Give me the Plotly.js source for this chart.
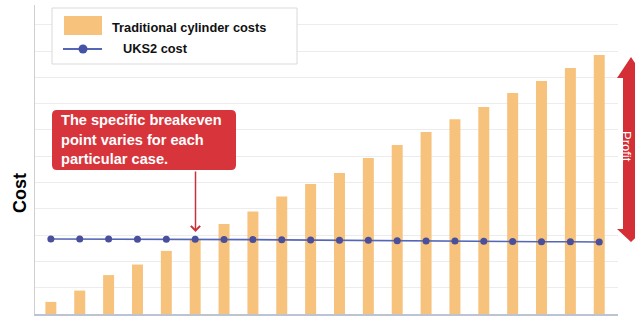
<!DOCTYPE html>
<html>
<head>
<meta charset="utf-8">
<script src="https://cdn.plot.ly/plotly-3.0.1.min.js"></script>
<style>html,body{margin:0;padding:0;background:#fff;}#chart{width:635px;height:318px;}</style>
</head>
<body>
<div id="chart"></div>
<script>
// Data (arbitrary cost units)
var categories = ['1','2','3','4','5','6','7','8','9','10','11','12','13','14','15','16','17','18','19','20'];
var traditionalCosts = [0.46,0.89,1.48,1.88,2.40,2.81,3.42,3.90,4.47,4.94,5.36,5.93,6.43,6.92,7.41,7.87,8.40,8.86,9.35,9.85];
var uks2Cost = [2.85,2.85,2.85,2.84,2.84,2.84,2.83,2.83,2.82,2.81,2.80,2.80,2.79,2.78,2.78,2.77,2.76,2.75,2.75,2.74];
var seriesNames = ['Traditional cylinder costs','UKS2 cost'];
var calloutLines = ['The specific breakeven','point varies for each','particular case.'];
var axisTitle = 'Cost';
var profitLabel = 'Profit';

// plot area geometry in pixels
var L = 35, R = 17, T = 5, B = 4, W = 635, H = 318;
var pw = W - L - R, ph = H - T - B;
function px(x){ return (x - L) / pw; }
function py(y){ return (H - B - y) / ph; }

var FONT = 'Liberation Sans, Arial, Helvetica, sans-serif';
var orange = '#f6c27c';
var red = '#d8343c';

function roundRect(x0,y0,x1,y1,r){
  var rx = r/pw, ry = r/ph;
  var a=px(x0), b=px(x1), c=py(y0), d=py(y1);
  return 'M'+(a+rx)+','+c+' L'+(b-rx)+','+c+' Q'+b+','+c+' '+b+','+(c-ry)+
    ' L'+b+','+(d+ry)+' Q'+b+','+d+' '+(b-rx)+','+d+
    ' L'+(a+rx)+','+d+' Q'+a+','+d+' '+a+','+(d+ry)+
    ' L'+a+','+(c-ry)+' Q'+a+','+c+' '+(a+rx)+','+c+' Z';
}
function poly(pts){
  return 'M' + pts.map(function(p){ return px(p[0])+','+py(p[1]); }).join(' L') + ' Z';
}

var traces = [
  {type:'bar', x:categories, y:traditionalCosts, name:seriesNames[0],
   marker:{color:orange, line:{width:0}}, hoverinfo:'skip'},
  {type:'scatter', mode:'lines+markers', x:categories, y:uks2Cost, name:seriesNames[1],
   line:{color:'#5566b5', width:1.6}, marker:{color:'#4a4f9c', size:7}, hoverinfo:'skip'}
];

var shapes = [
  {type:'rect', xref:'paper', yref:'paper', x0:px(52), x1:px(297), y0:py(8), y1:py(64),
   line:{color:'#d9d9d9', width:1}, fillcolor:'#ffffff', layer:'above'},
  {type:'rect', xref:'paper', yref:'paper', x0:px(64), x1:px(102), y0:py(16), y1:py(35),
   line:{width:0}, fillcolor:orange, layer:'above'},
  {type:'line', xref:'paper', yref:'paper', x0:px(63), x1:px(102), y0:py(49), y1:py(49),
   line:{color:'#5566b5', width:2}, layer:'above'},
  {type:'circle', xref:'paper', yref:'paper', x0:px(78.5), x1:px(87.5), y0:py(44.5), y1:py(53.5),
   line:{width:0}, fillcolor:'#4453a8', layer:'above'},
  {type:'path', xref:'paper', yref:'paper', path:roundRect(52,110,236,170,5),
   fillcolor:red, line:{width:0}, layer:'above'},
  {type:'path', xref:'paper', yref:'paper',
   path:poly([[631,57],[645,78],[639,78],[639,229],[645,229],[631,242],[617,229],[623,229],[623,78],[617,78]]),
   fillcolor:'#d42f36', line:{width:0}, layer:'above'}
];

var annotations = [
  {xref:'paper', yref:'paper', x:px(110), y:py(27), xanchor:'left', yanchor:'middle', showarrow:false,
   text:'<b>'+seriesNames[0]+'</b>', font:{family:FONT, size:12.8, color:'#111'}},
  {xref:'paper', yref:'paper', x:px(121), y:py(49), xanchor:'left', yanchor:'middle', showarrow:false,
   text:'<b>'+seriesNames[1]+'</b>', font:{family:FONT, size:12.8, color:'#111'}},
  {xref:'paper', yref:'paper', x:px(20), y:py(193), xanchor:'center', yanchor:'middle', showarrow:false,
   textangle:-90, text:'<b>'+axisTitle+'</b>', font:{family:FONT, size:18, color:'#000'}},
  {xref:'paper', yref:'paper', x:px(627), y:py(146), xanchor:'center', yanchor:'middle', showarrow:false,
   textangle:90, text:profitLabel, font:{family:FONT, size:13, color:'#ffffff'}, borderpad:0},
  {xref:'paper', yref:'paper', x:px(195.5), y:py(232), ax:0, ay:-62, axref:'pixel', ayref:'pixel',
   showarrow:true, arrowhead:4, arrowsize:1.2, arrowwidth:1.5, arrowcolor:'#c8303a', text:'', standoff:0}
];
var lineY = [120, 139.5, 159];
for (var i=0;i<calloutLines.length;i++){
  annotations.push({xref:'paper', yref:'paper', x:px(59), y:py(lineY[i]), xanchor:'left', yanchor:'middle',
    showarrow:false, text:'<b>'+calloutLines[i]+'</b>', font:{family:FONT, size:14.6, color:'#ffffff'}});
}

var layout = {
  width:W, height:H,
  margin:{l:L, r:R, t:T, b:B, pad:0},
  paper_bgcolor:'#ffffff', plot_bgcolor:'#ffffff',
  showlegend:false,
  bargap:0.62,
  xaxis:{type:'category', range:[-0.55, 19.65], showticklabels:false, ticks:'', showgrid:false,
         zeroline:false, showline:true, linecolor:'#bcc3d2', linewidth:1.5},
  yaxis:{range:[0, 11.75], dtick:1, showticklabels:false, ticks:'', showgrid:true, gridcolor:'#ececec',
         zeroline:false, showline:true, linecolor:'#cfcfcf', linewidth:1},
  shapes:shapes,
  annotations:annotations,
  font:{family:FONT}
};

Plotly.newPlot('chart', traces, layout, {staticPlot:true, displayModeBar:false});
</script>
</body>
</html>
